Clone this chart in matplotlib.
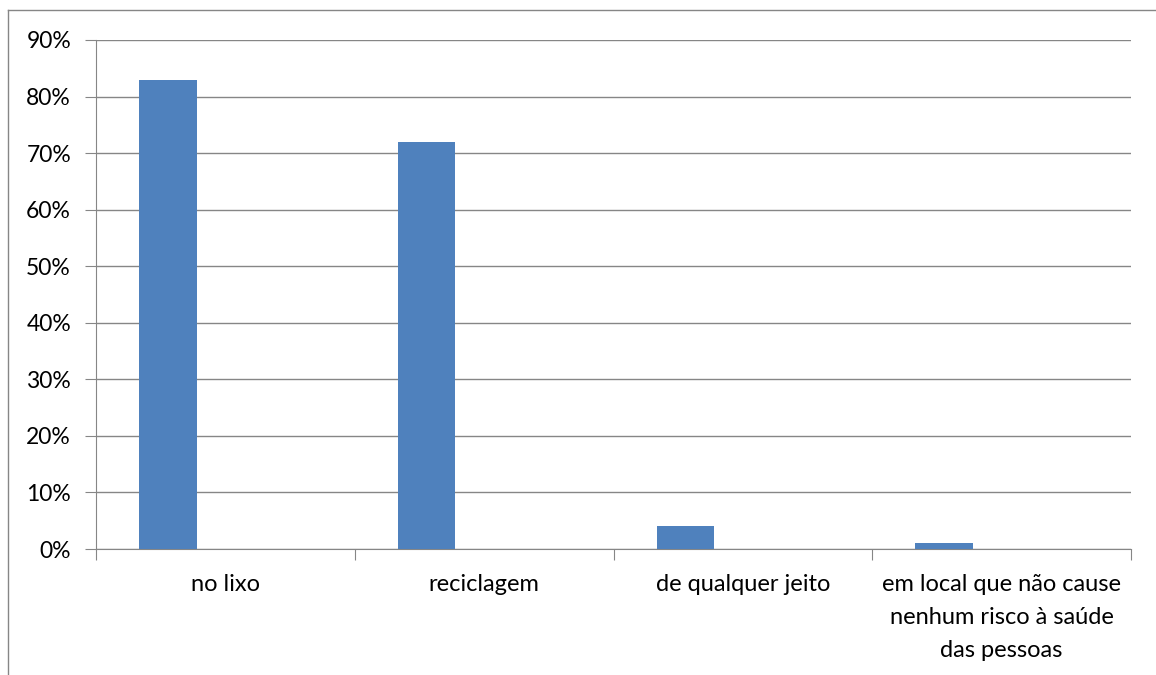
import numpy as np
import matplotlib.pyplot as plt

categories = ['no lixo', 'reciclagem', 'de qualquer jeito',
              'em local que não cause\nnenhum risco à saúde\ndas pessoas']
values = [83, 72, 4, 1]
yticks = [0, 10, 20, 30, 40, 50, 60, 70, 80, 90]

plt.rcParams['font.family'] = ['Lato', 'DejaVu Sans']

W, H = 1156, 675
fig = plt.figure(figsize=(W / 100, H / 100), dpi=100)
ax = fig.add_axes([96 / W, 1 - 549 / H, (1131 - 96) / W, (549 - 40) / H])

# frame around the chart (only top and left show in the crop)
fig.add_artist(plt.Line2D([8 / W, 8 / W], [0, 1 - 10 / H], transform=fig.transFigure,
                          color='#868686', lw=1))
fig.add_artist(plt.Line2D([8 / W, 1], [1 - 10 / H, 1 - 10 / H], transform=fig.transFigure,
                          color='#868686', lw=1))

x = np.arange(len(categories))
bw = 1 / 4.5
ax.bar(x - 0.5 + 0.75 * bw, values, width=bw, align='edge', color='#4F81BD', zorder=3)

ax.set_xlim(-0.5, len(categories) - 0.5)
ax.set_ylim(0, 90)
ax.set_yticks(yticks)
ax.set_yticklabels([f'{v}%' for v in yticks], fontsize=16.5)
ax.yaxis.grid(True, color='#868686', lw=1, zorder=0)
ax.tick_params(axis='y', length=8, color='#868686', pad=10)

ax.set_xticks(np.arange(len(categories) + 1) - 0.5)
ax.set_xticklabels([])
ax.set_xticks(x, minor=True)
ax.set_xticklabels(categories, minor=True, fontsize=17, linespacing=1.7)
ax.tick_params(axis='x', which='minor', length=0, pad=18)
ax.tick_params(axis='x', which='major', length=8, color='#868686')

for s in ['top', 'right']:
    ax.spines[s].set_visible(False)
for s in ['left', 'bottom']:
    ax.spines[s].set_color('#868686')

fig.savefig('out.png', dpi=100)
